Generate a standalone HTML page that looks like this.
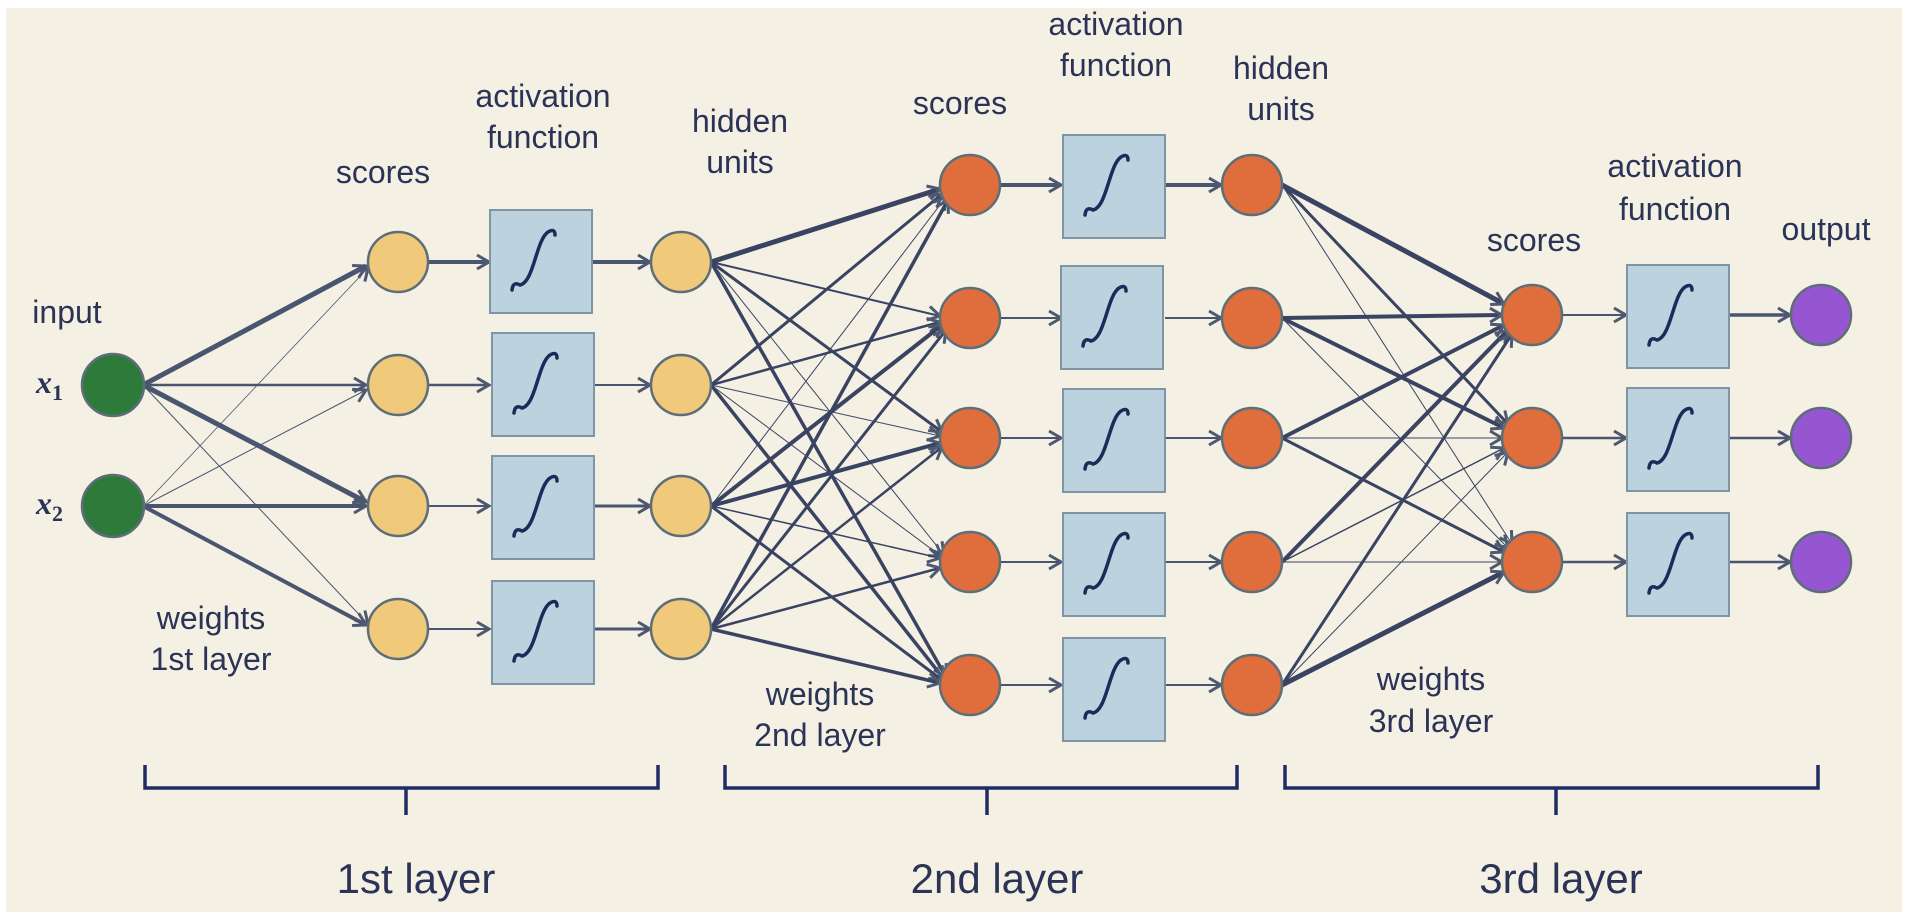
<!DOCTYPE html>
<html><head><meta charset="utf-8"><style>
body{margin:0;background:#ffffff;}
svg{display:block;}
text{font-family:"Liberation Sans",sans-serif;fill:#2b3356;}
</style></head><body>
<svg width="1906" height="922" viewBox="0 0 1906 922" xmlns="http://www.w3.org/2000/svg">
<defs>
<marker id="a" markerUnits="userSpaceOnUse" markerWidth="22" markerHeight="22" refX="15" refY="11" orient="auto">
<path d="M3,4 L15,11 L3,18" fill="none" stroke="#4e5870" stroke-width="3"/>
</marker>
<g id="sig"><rect x="0" y="0" width="102" height="103" fill="#bcd2de" stroke="#7e95a6" stroke-width="2"/>
<path d="M22,80 q1,-9 8,-5 C44,72 46,30 58,22 q7,-4 7,3" fill="none" stroke="#1e2a5a" stroke-width="3.5" stroke-linecap="round"/></g>
</defs>
<rect width="1906" height="922" fill="#ffffff"/>
<rect x="6" y="8" width="1896" height="904" fill="#f4f0e4"/>
<g stroke="#4a5570" fill="none" marker-end="url(#a)">
<line x1="143" y1="385" x2="366" y2="266" stroke-width="5"/>
<line x1="143" y1="385" x2="366" y2="385" stroke-width="2.5"/>
<line x1="143" y1="385" x2="366" y2="502" stroke-width="5"/>
<line x1="143" y1="385" x2="368" y2="624" stroke-width="1"/>
<line x1="143" y1="506" x2="368" y2="268" stroke-width="0.8"/>
<line x1="143" y1="506" x2="366" y2="390" stroke-width="1"/>
<line x1="143" y1="506" x2="366" y2="506" stroke-width="4"/>
<line x1="143" y1="506" x2="366" y2="625" stroke-width="4"/>
<line x1="428" y1="262" x2="489" y2="262" stroke-width="4"/>
<line x1="428" y1="385" x2="489" y2="385" stroke-width="2.5"/>
<line x1="428" y1="506" x2="489" y2="506" stroke-width="2"/>
<line x1="428" y1="629" x2="489" y2="629" stroke-width="2"/>
<line x1="592" y1="262" x2="650" y2="262" stroke-width="4"/>
<line x1="592" y1="385" x2="650" y2="385" stroke-width="2"/>
<line x1="592" y1="506" x2="650" y2="506" stroke-width="3"/>
<line x1="592" y1="629" x2="650" y2="629" stroke-width="3"/>
<g stroke="#3a4462">
<line x1="711" y1="262" x2="940" y2="189" stroke-width="5"/>
<line x1="711" y1="262" x2="940" y2="316" stroke-width="2"/>
<line x1="711" y1="262" x2="942" y2="432" stroke-width="3"/>
<line x1="711" y1="262" x2="944" y2="555" stroke-width="1"/>
<line x1="711" y1="262" x2="946" y2="677" stroke-width="3.5"/>
<line x1="711" y1="385" x2="942" y2="194" stroke-width="3"/>
<line x1="711" y1="385" x2="940" y2="322" stroke-width="2.5"/>
<line x1="711" y1="385" x2="940" y2="436" stroke-width="1"/>
<line x1="711" y1="385" x2="942" y2="557" stroke-width="1"/>
<line x1="711" y1="385" x2="944" y2="679" stroke-width="3.5"/>
<line x1="711" y1="506" x2="946" y2="197" stroke-width="1"/>
<line x1="711" y1="506" x2="942" y2="325" stroke-width="4"/>
<line x1="711" y1="506" x2="940" y2="443" stroke-width="4"/>
<line x1="711" y1="506" x2="940" y2="558" stroke-width="1.5"/>
<line x1="711" y1="506" x2="942" y2="680" stroke-width="3"/>
<line x1="711" y1="629" x2="948" y2="200" stroke-width="3.5"/>
<line x1="711" y1="629" x2="946" y2="330" stroke-width="3"/>
<line x1="711" y1="629" x2="942" y2="447" stroke-width="2.5"/>
<line x1="711" y1="629" x2="940" y2="568" stroke-width="2.5"/>
<line x1="711" y1="629" x2="940" y2="683" stroke-width="3.5"/>
</g>
<line x1="1000" y1="185" x2="1061" y2="185" stroke-width="4"/>
<line x1="1000" y1="318" x2="1061" y2="318" stroke-width="2"/>
<line x1="1000" y1="438" x2="1061" y2="438" stroke-width="2"/>
<line x1="1000" y1="562" x2="1061" y2="562" stroke-width="2"/>
<line x1="1000" y1="685" x2="1061" y2="685" stroke-width="2"/>
<line x1="1165" y1="185" x2="1221" y2="185" stroke-width="4"/>
<line x1="1165" y1="318" x2="1221" y2="318" stroke-width="2"/>
<line x1="1165" y1="438" x2="1221" y2="438" stroke-width="2"/>
<line x1="1165" y1="562" x2="1221" y2="562" stroke-width="2"/>
<line x1="1165" y1="685" x2="1221" y2="685" stroke-width="2"/>
<g stroke="#3a4462">
<line x1="1282" y1="185" x2="1504" y2="304" stroke-width="5"/>
<line x1="1282" y1="185" x2="1508" y2="424" stroke-width="3"/>
<line x1="1282" y1="185" x2="1512" y2="544" stroke-width="1"/>
<line x1="1282" y1="318" x2="1502" y2="315" stroke-width="4"/>
<line x1="1282" y1="318" x2="1504" y2="428" stroke-width="4"/>
<line x1="1282" y1="318" x2="1508" y2="548" stroke-width="1"/>
<line x1="1282" y1="438" x2="1504" y2="325" stroke-width="4"/>
<line x1="1282" y1="438" x2="1502" y2="438" stroke-width="1"/>
<line x1="1282" y1="438" x2="1504" y2="552" stroke-width="3"/>
<line x1="1282" y1="562" x2="1508" y2="330" stroke-width="4"/>
<line x1="1282" y1="562" x2="1504" y2="448" stroke-width="1.5"/>
<line x1="1282" y1="562" x2="1502" y2="562" stroke-width="1"/>
<line x1="1282" y1="685" x2="1512" y2="334" stroke-width="3"/>
<line x1="1282" y1="685" x2="1508" y2="452" stroke-width="1"/>
<line x1="1282" y1="685" x2="1504" y2="572" stroke-width="5"/>
</g>
<line x1="1562" y1="315" x2="1626" y2="315" stroke-width="2"/>
<line x1="1562" y1="438" x2="1626" y2="438" stroke-width="2.5"/>
<line x1="1562" y1="562" x2="1626" y2="562" stroke-width="2.5"/>
<line x1="1730" y1="315" x2="1790" y2="315" stroke-width="3.5"/>
<line x1="1730" y1="438" x2="1790" y2="438" stroke-width="2.5"/>
<line x1="1730" y1="562" x2="1790" y2="562" stroke-width="2.5"/>
</g>
<use href="#sig" x="490" y="210"/><use href="#sig" x="492" y="333"/><use href="#sig" x="492" y="456"/><use href="#sig" x="492" y="581"/>
<use href="#sig" x="1063" y="135"/><use href="#sig" x="1061" y="266"/><use href="#sig" x="1063" y="389"/><use href="#sig" x="1063" y="513"/><use href="#sig" x="1063" y="638"/>
<use href="#sig" x="1627" y="265"/><use href="#sig" x="1627" y="388"/><use href="#sig" x="1627" y="513"/>
<g stroke="#5d6e78" stroke-width="2.5">
<circle cx="113" cy="385" r="31" fill="#2e7a3a"/><circle cx="113" cy="506" r="31" fill="#2e7a3a"/>
<g fill="#f1c97a"><circle cx="398" cy="262" r="30"/><circle cx="398" cy="385" r="30"/><circle cx="398" cy="506" r="30"/><circle cx="398" cy="629" r="30"/>
<circle cx="681" cy="262" r="30"/><circle cx="681" cy="385" r="30"/><circle cx="681" cy="506" r="30"/><circle cx="681" cy="629" r="30"/></g>
<g fill="#df6e3c"><circle cx="970" cy="185" r="30"/><circle cx="970" cy="318" r="30"/><circle cx="970" cy="438" r="30"/><circle cx="970" cy="562" r="30"/><circle cx="970" cy="685" r="30"/>
<circle cx="1252" cy="185" r="30"/><circle cx="1252" cy="318" r="30"/><circle cx="1252" cy="438" r="30"/><circle cx="1252" cy="562" r="30"/><circle cx="1252" cy="685" r="30"/>
<circle cx="1532" cy="315" r="30"/><circle cx="1532" cy="438" r="30"/><circle cx="1532" cy="562" r="30"/></g>
<g fill="#9656d2"><circle cx="1821" cy="315" r="30"/><circle cx="1821" cy="438" r="30"/><circle cx="1821" cy="562" r="30"/></g>
</g>
<g stroke="#1f2c63" stroke-width="3.5" fill="none">
<path d="M145,765 V788 H658 V765 M406,788 V815"/>
<path d="M725,765 V788 H1237 V765 M987,788 V815"/>
<path d="M1285,765 V788 H1818 V765 M1556,788 V815"/>
</g>
<g font-size="32" text-anchor="middle">
<text x="67" y="323">input</text>
<text x="383" y="183">scores</text>
<text x="543" y="107">activation</text><text x="543" y="148">function</text>
<text x="740" y="132">hidden</text><text x="740" y="173">units</text>
<text x="211" y="629">weights</text><text x="211" y="670">1st layer</text>
<text x="820" y="705">weights</text><text x="820" y="746">2nd layer</text>
<text x="960" y="114">scores</text>
<text x="1116" y="35">activation</text><text x="1116" y="76">function</text>
<text x="1281" y="79">hidden</text><text x="1281" y="120">units</text>
<text x="1534" y="251">scores</text>
<text x="1675" y="177">activation</text><text x="1675" y="220">function</text>
<text x="1826" y="240">output</text>
<text x="1431" y="690">weights</text><text x="1431" y="732">3rd layer</text>
</g>
<g font-size="42" text-anchor="middle">
<text x="416" y="893">1st layer</text><text x="997" y="893">2nd layer</text><text x="1561" y="893">3rd layer</text>
</g>
<g font-style="italic" font-weight="bold" font-size="32">
<text x="36" y="393" style="font-family:'Liberation Serif',serif">x<tspan font-size="22" dy="7" font-style="normal">1</tspan></text>
<text x="36" y="514" style="font-family:'Liberation Serif',serif">x<tspan font-size="22" dy="7" font-style="normal">2</tspan></text>
</g>
</svg>
</body></html>
